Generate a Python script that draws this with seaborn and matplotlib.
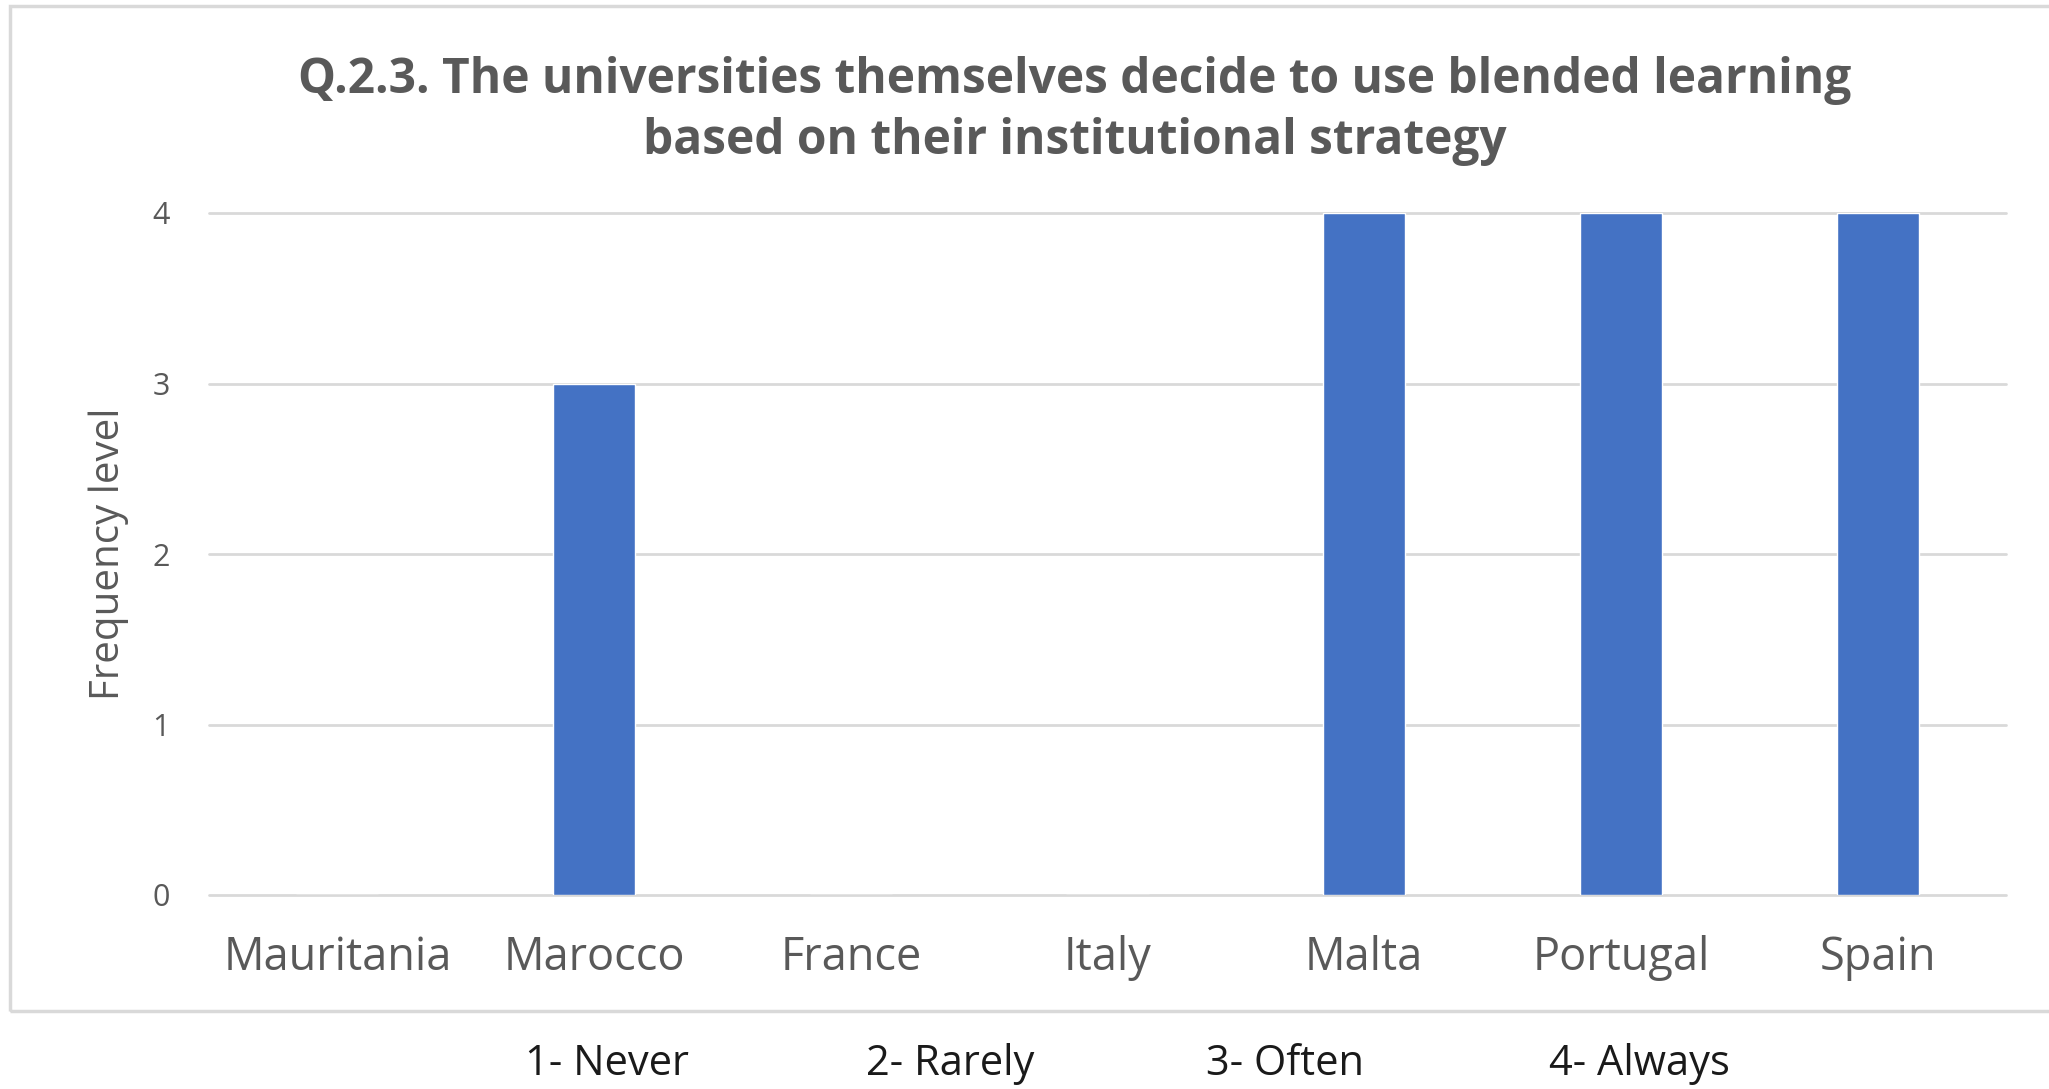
import matplotlib
matplotlib.use("Agg")
import matplotlib.pyplot as plt
import seaborn as sns
import pandas as pd
from matplotlib.patches import Rectangle

countries = ["Mauritania", "Marocco", "France", "Italy", "Malta", "Portugal", "Spain"]
values = [0, 3, 0, 0, 4, 4, 4]
yticks = [0, 1, 2, 3, 4]
title = "Q.2.3. The universities themselves decide to use blended learning\nbased on their institutional strategy"
ylabel = "Frequency level"
scale_labels = ["1- Never", "2- Rarely", "3- Often", "4- Always"]
scale_x = [607, 950, 1285, 1639]  # pixel centres of the scale legend

sns.set_theme(style="white")
plt.rcParams["font.family"] = ["Open Sans", "DejaVu Sans"]

W, H = 2049, 1089
fig = plt.figure(figsize=(W / 100, H / 100), dpi=100)
fig.patch.set_facecolor("white")

ax = fig.add_axes([209 / W, 1 - 895 / H, (2006 - 209) / W, (895 - 213) / H])
df = pd.DataFrame({"country": countries, "value": values})
sns.barplot(data=df, x="country", y="value", color="#4472C4", width=0.32,
            saturation=1, ax=ax, zorder=3)

ax.set_ylim(0, 4)
ax.set_yticks(yticks)
ax.yaxis.grid(True, color="#D9D9D9", linewidth=2)
for gl in ax.yaxis.get_gridlines():
    gl.set_clip_on(False)
ax.set_axisbelow(True)
for s in ax.spines.values():
    s.set_visible(False)
ax.tick_params(axis="both", length=0)
ax.tick_params(axis="x", labelsize=32.5, labelcolor="#595959", pad=29)
ax.tick_params(axis="y", labelsize=22, labelcolor="#595959", pad=28)
ax.set_xlabel("")
ax.set_ylabel(ylabel, fontsize=29, color="#595959", labelpad=17)

fig.text(1075 / W, 1 - 111 / H, title, ha="center", va="center",
         fontsize=34.5, fontweight="bold", color="#595959", linespacing=1.33)

for lab, x in zip(scale_labels, scale_x):
    fig.text(x / W, 1 - 1075 / H, lab, ha="center", va="baseline",
             fontsize=30, color="#1a1a1a")

fig.add_artist(Rectangle((10 / W, 1 - 1011 / H), 1.05, (1011 - 6) / H,
                         transform=fig.transFigure, fill=False,
                         edgecolor="#D9D9D9", linewidth=2.5, clip_on=False))

fig.savefig("out.png", dpi=100, facecolor="white")
